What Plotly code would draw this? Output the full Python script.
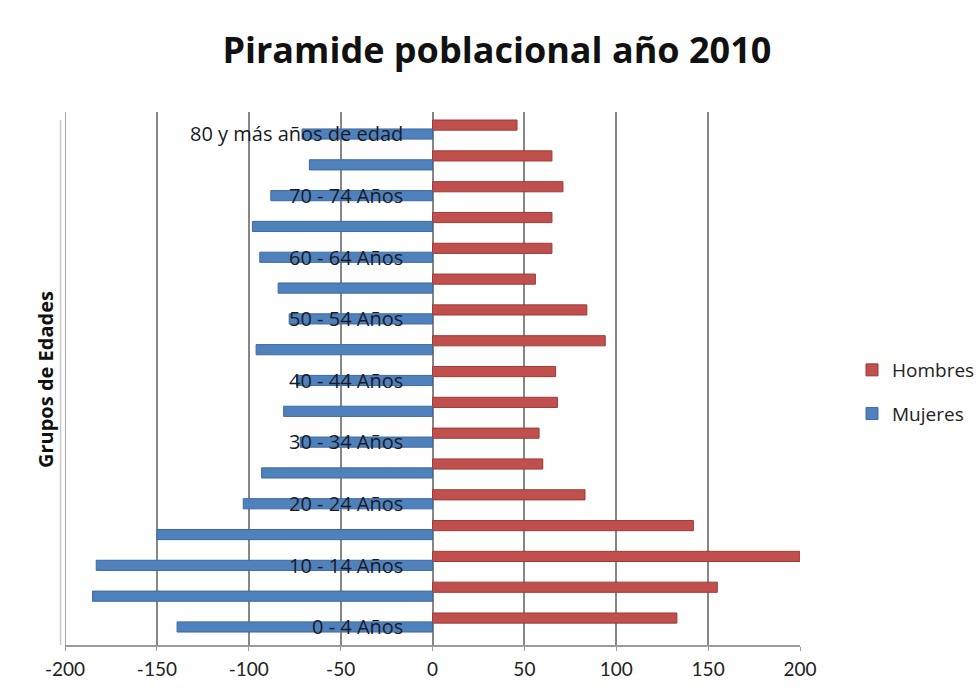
import plotly.graph_objects as go

# Age groups, youngest first (bottom of the pyramid)
grupos = ["0 - 4 Años", "5 - 9 Años", "10 - 14 Años", "15 - 19 Años", "20 - 24 Años",
          "25 - 29 Años", "30 - 34 Años", "35 - 39 Años", "40 - 44 Años", "45 - 49 Años",
          "50 - 54 Años", "55 - 59 Años", "60 - 64 Años", "65 - 69 Años", "70 - 74 Años",
          "75 - 79 Años", "80 y más años de edad"]
hombres = [133, 155, 200, 142, 83, 60, 58, 68, 67, 94, 84, 56, 65, 65, 71, 65, 46]
mujeres = [139, 185, 183, 150, 103, 93, 72, 81, 74, 96, 78, 84, 94, 98, 88, 67, 71]

x_ticks = [-200, -150, -100, -50, 0, 50, 100, 150, 200]
x_tick_text = ["-200", "-150", "-100", "-50", "0", "50", "100", "150", "200"]

RED = "#C0504D"
BLUE = "#4F81BD"
FONT = "Open Sans"
TICK_FONT = "Lato"

pos = list(range(len(grupos)))

fig = go.Figure()
fig.add_trace(go.Bar(
    y=pos, x=hombres, orientation="h", name="Hombres",
    marker=dict(color=RED, line=dict(color="#9E3B38", width=1)),
    width=0.33, offset=-0.02, legendgroup="h",
))
fig.add_trace(go.Bar(
    y=pos, x=[-v for v in mujeres], orientation="h", name="Mujeres",
    marker=dict(color=BLUE, line=dict(color="#3D6A9E", width=1)),
    width=0.33, offset=-0.31, legendgroup="m",
))

# Every other age group is labelled next to the central axis
annotations = []
for i, g in enumerate(grupos):
    if i % 2 == 0:
        annotations.append(dict(
            x=-15, y=i - 0.14, xref="x", yref="y", text=g, showarrow=False,
            xanchor="right", yanchor="middle",
            font=dict(family=FONT, size=20, color="#1a1a26"),
        ))

# Vertical axis title, placed in pixels left of the plot frame
annotations.append(dict(
    x=(45 - 65) / 735, y=(645 - 380) / 533, xref="paper", yref="paper",
    xanchor="center", yanchor="middle",
    text="<b>Grupos de Edades</b>", showarrow=False, textangle=-90,
    font=dict(family=FONT, size=20, color="#111"),
))

fig.update_layout(
    width=980, height=693,
    margin=dict(l=65, r=180, t=112, b=48, autoexpand=False),
    paper_bgcolor="white", plot_bgcolor="white",
    barmode="overlay",
    title=dict(text="<b>Piramide poblacional año 2010</b>", x=0.507, xanchor="center",
               y=1 - 50 / 693, yanchor="middle", yref="container",
               font=dict(family=FONT, size=36, color="#111")),
    xaxis=dict(
        range=[-200, 200], tickvals=x_ticks, ticktext=x_tick_text,
        showgrid=True, gridcolor="#868686", gridwidth=2,
        zeroline=True, zerolinecolor="#868686", zerolinewidth=2,
        showline=True, linecolor="#9a9a9a", linewidth=2, mirror=False,
        ticks="outside", ticklen=4, tickcolor="#9a9a9a",
        ticklabelstandoff=2,
        tickfont=dict(family=TICK_FONT, size=19, color="#222"),
    ),
    yaxis=dict(range=[-0.73, 16.57], showticklabels=False, showgrid=False,
               zeroline=False, showline=False),
    legend=dict(x=(852 - 65) / 735, y=(645 - 392) / 533, xanchor="left", yanchor="middle",
                traceorder="grouped", tracegroupgap=16, itemwidth=30,
                font=dict(family=FONT, size=19, color="#222")),
    annotations=annotations,
)

# Side walls of the plot frame
fig.add_shape(type="line", xref="x", yref="paper", x0=-200, x1=-200, y0=0, y1=1,
              line=dict(color="#a8a8a8", width=2), layer="below")
fig.add_shape(type="line", xref="paper", yref="paper", x0=-0.006, x1=-0.006, y0=0, y1=0.985,
              line=dict(color="#c8c8c8", width=1.5), layer="below")

fig.write_html("out.html")
